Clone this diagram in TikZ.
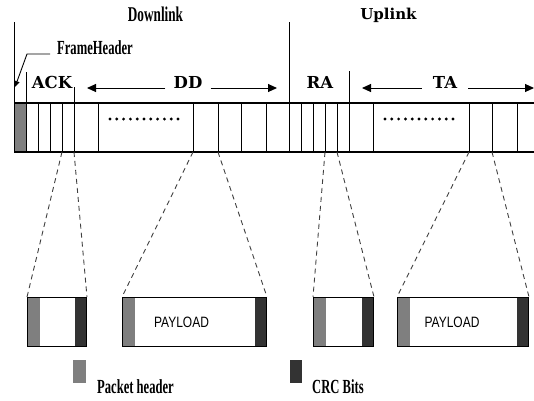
\documentclass[tikz,border=0pt]{standalone}
\usepackage{fontspec}
\usepackage{graphicx}
\setmainfont{Liberation Serif}
\newfontfamily\slabfont{DejaVu Serif}
\newfontfamily\payloadfont{Liberation Sans}
\usetikzlibrary{arrows.meta,positioning}

\definecolor{hdrgray}{HTML}{7F7F7F}
\definecolor{crcgray}{HTML}{333333}

% narrow bold serif used for the titles and the legend
\newcommand{\slim}[1]{\scalebox{0.63}[1]{#1}}

\tikzset{
  thinbold/.style={font=\fontsize{20}{20}\selectfont\bfseries, inner sep=0pt},
  fieldlbl/.style={font=\slabfont\fontsize{16.5}{16.5}\selectfont\bfseries, anchor=base, inner xsep=8pt, inner ysep=0pt},
  fieldarrow/.style={-{Triangle[length=9pt,width=8pt]}, line width=1pt},
  zoomline/.style={dash pattern=on 5pt off 4pt, line width=0.9pt, black!75},
  pkt/.style={draw, line width=1pt, minimum height=49pt, inner sep=0pt, anchor=north west,
    path picture={
      \fill[hdrgray] (path picture bounding box.north west) rectangle ([xshift=12pt]path picture bounding box.south west);
      \fill[crcgray] ([xshift=-12pt]path picture bounding box.north east) rectangle (path picture bounding box.south east);
    }},
  keybox/.style={minimum width=13pt, minimum height=23pt, inner sep=0pt, anchor=north west},
}

\begin{document}
\begin{tikzpicture}[x=1pt,y=-1pt]
  \useasboundingbox (0,0) rectangle (534,400);

  % the frame
  \fill[hdrgray] (14,103) rectangle (26,152);
  \draw[line width=1.2pt] (14,103) -- (534,103);
  \draw[line width=1.2pt] (14,152) -- (534,152);
  \draw[line width=1pt] (14,22) -- (14,152);
  \draw[line width=1pt] (289,22) -- (289,152);
  \foreach \x in {26,38,50,62,74,98,193,218,241,266,301,313,325,337,349,373,469,492,517}
    \draw[line width=0.9pt] (\x,103) -- (\x,152) coordinate (v\x);
  \draw[line width=0.9pt] (26,72) -- (26,103);
  \draw[line width=0.9pt] (74,87) -- (74,103);
  \draw[line width=0.9pt] (349,71) -- (349,103);
  \foreach \i in {0,...,10}{
    \fill (110+6.8*\i,119) circle (1.6);
    \fill (385+6.8*\i,119) circle (1.6);
  }

  % titles
  \node[thinbold, font=\fontsize{21}{21}\selectfont\bfseries, anchor=base] (downlink) at (155.5,21) {\slim{Downlink}};
  \node[font=\slabfont\fontsize{15}{15}\selectfont\bfseries, anchor=base, inner sep=0pt] (uplink) at (388.5,19) {Uplink};
  \node[thinbold, anchor=base west, inner xsep=7pt] (framehdr) at (50,54) {\slim{FrameHeader}};
  \coordinate (fhbend) at (27,54);
  \coordinate (fhtip) at (15,87);
  \draw[-{Triangle[length=6pt,width=5pt]}, line width=0.9pt] (framehdr.base west) -- (fhbend) -- (fhtip);

  % fields
  \node[fieldlbl] (ack) at (52,88) {ACK};
  \node[fieldlbl] (dd) at (188,88) {DD};
  \node[fieldlbl] (ra) at (320,88) {RA};
  \node[fieldlbl, inner xsep=11pt] (ta) at (445,88) {TA};
  \coordinate (ddL) at (87,88);
  \coordinate (ddR) at (277,88);
  \coordinate (taL) at (362,88);
  \coordinate (taR) at (534,88);
  \draw[fieldarrow] (dd.base west) -- (ddL);
  \draw[fieldarrow] (dd.base east) -- (ddR);
  \draw[fieldarrow] (ta.base west) -- (taL);
  \draw[fieldarrow] (ta.base east) -- (taR);

  % packets
  \node[pkt, minimum width=59pt] (ackpkt) at (27,297) {};
  \node[pkt, minimum width=144pt] (ddpkt) at (122,297) {};
  \node[pkt, minimum width=60pt] (rapkt) at (313,297) {};
  \node[pkt, minimum width=131pt] (tapkt) at (397,297) {};
  \node[font=\payloadfont\fontsize{15}{15}\selectfont] at ([xshift=-13pt]ddpkt.center) {\scalebox{0.8}[1]{PAYLOAD}};
  \node[font=\payloadfont\fontsize{15}{15}\selectfont] at ([xshift=-11pt]tapkt.center) {\scalebox{0.8}[1]{PAYLOAD}};

  \draw[zoomline] (v62) -- (ackpkt.north west);
  \draw[zoomline] (v74) -- (ackpkt.north east);
  \draw[zoomline] (v193) -- (ddpkt.north west);
  \draw[zoomline] (v218) -- (ddpkt.north east);
  \draw[zoomline] (v325) -- (rapkt.north west);
  \draw[zoomline] (v337) -- (rapkt.north east);
  \draw[zoomline] (v469) -- (tapkt.north west);
  \draw[zoomline] (v492) -- (tapkt.north east);

  % legend
  \node[keybox, fill=hdrgray] (keyhdr) at (73,360) {};
  \node[thinbold, anchor=base west] (hdrtext) at (97,393) {\slim{Packet header}};
  \node[keybox, fill=crcgray, minimum width=12pt] (keycrc) at (290,360) {};
  \node[thinbold, anchor=base west] (crctext) at (312,393) {\slim{CRC Bits}};
\end{tikzpicture}
\end{document}
